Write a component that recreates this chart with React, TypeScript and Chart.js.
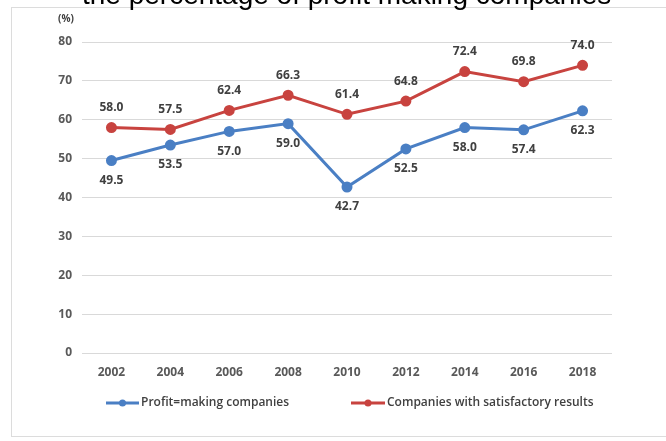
import React, { useEffect, useRef } from "react";
import { Chart, registerables } from "chart.js";

Chart.register(...registerables);

const titleText = "the percentage of profit making companies";
const unitLabel = "(%)";
const years = ["2002", "2004", "2006", "2008", "2010", "2012", "2014", "2016", "2018"];
const profitMaking = [49.5, 53.5, 57.0, 59.0, 42.7, 52.5, 58.0, 57.4, 62.3];
const satisfactory = [58.0, 57.5, 62.4, 66.3, 61.4, 64.8, 72.4, 69.8, 74.0];
const seriesNames = ["Profit=making companies", "Companies with satisfactory results"];
const yMin = 0;
const yMax = 80;
const yStep = 10;

const BLUE = "#4a7fc4";
const RED = "#c8433f";
const FONT = "'Open Sans', 'DejaVu Sans', sans-serif";

const valueLabels = {
  id: "valueLabels",
  afterDatasetsDraw(chart: any) {
    const ctx = chart.ctx;
    ctx.save();
    ctx.font = `bold 12px ${FONT}`;
    ctx.fillStyle = "#404040";
    ctx.textAlign = "center";
    ctx.textBaseline = "middle";
    chart.data.datasets.forEach((ds: any, i: number) => {
      const meta = chart.getDatasetMeta(i);
      const above = i === 1;
      meta.data.forEach((pt: any, j: number) => {
        const v = ds.data[j] as number;
        ctx.fillText(v.toFixed(1), pt.x, pt.y + (above ? -20 : 20));
      });
    });
    ctx.font = `bold 10px ${FONT}`;
    ctx.fillStyle = "#404040";
    ctx.fillText(unitLabel, 66, 19);
    ctx.restore();
  },
};

const customLegend = {
  id: "customLegend",
  afterDraw(chart: any) {
    const ctx = chart.ctx;
    const y = 403;
    const items = [
      { x0: 106, x1: 139 },
      { x0: 351, x1: 385 },
    ];
    ctx.save();
    ctx.font = `600 12px ${FONT}`;
    ctx.textBaseline = "middle";
    ctx.textAlign = "left";
    chart.data.datasets.forEach((ds: any, i: number) => {
      const it = items[i];
      ctx.strokeStyle = ds.borderColor;
      ctx.lineWidth = 3;
      ctx.beginPath();
      ctx.moveTo(it.x0, y);
      ctx.lineTo(it.x1, y);
      ctx.stroke();
      ctx.fillStyle = ds.borderColor;
      ctx.beginPath();
      ctx.arc((it.x0 + it.x1) / 2, y, 3.5, 0, Math.PI * 2);
      ctx.fill();
      ctx.fillStyle = "#404040";
      ctx.fillText(ds.label, it.x1 + 2, y);
    });
    ctx.restore();
  },
};

export default function App() {
  const ref = useRef<HTMLCanvasElement | null>(null);

  useEffect(() => {
    if (!ref.current) return;
    const chart = new Chart(ref.current, {
      type: "line",
      data: {
        labels: years,
        datasets: [
          {
            label: seriesNames[0],
            data: profitMaking,
            borderColor: BLUE,
            backgroundColor: BLUE,
            borderWidth: 3,
            pointRadius: 4,
            pointBackgroundColor: BLUE,
            pointBorderColor: BLUE,
            tension: 0,
          },
          {
            label: seriesNames[1],
            data: satisfactory,
            borderColor: RED,
            backgroundColor: RED,
            borderWidth: 3,
            pointRadius: 4,
            pointBackgroundColor: RED,
            pointBorderColor: RED,
            tension: 0,
          },
        ],
      },
      options: {
        responsive: false,
        animation: false,
        devicePixelRatio: 1,
        layout: { padding: { top: 42, right: 54, left: 0, bottom: 0 } },
        plugins: {
          legend: { display: false },
          tooltip: { enabled: false },
          title: { display: false },
        },
        scales: {
          x: {
            offset: true,
            grid: { display: false, drawTicks: false },
            border: { display: false },
            ticks: {
              color: "#595959",
              font: { family: FONT, size: 12, weight: "bold" },
              padding: 12,
              maxRotation: 0,
            },
            afterFit: (s: any) => {
              s.height = 88;
            },
          },
          y: {
            min: yMin,
            max: yMax,
            grid: { color: "#d9d9d9", lineWidth: 1, drawTicks: false },
            border: { display: false },
            ticks: {
              stepSize: yStep,
              color: "#595959",
              font: { family: FONT, size: 12, weight: "bold" },
              padding: 10,
            },
            afterFit: (s: any) => {
              s.width = 82;
            },
          },
        },
      },
      plugins: [valueLabels, customLegend],
    });
    return () => chart.destroy();
  }, []);

  return (
    <div
      style={{
        position: "absolute",
        left: 0,
        top: 0,
        width: 666,
        height: 441,
        overflow: "hidden",
        background: "#ffffff",
      }}
    >
      <div
        style={{
          position: "absolute",
          left: 11,
          top: 7,
          width: 700,
          height: 430,
          border: "1px solid #dcdcdc",
          boxSizing: "border-box",
        }}
      />
      <canvas
        ref={ref}
        width={666}
        height={441}
        style={{ position: "absolute", left: 0, top: 0, display: "block" }}
      />
      <div
        style={{
          position: "absolute",
          left: 82,
          top: -19,
          fontFamily: "'Liberation Sans', Arial, sans-serif",
          fontSize: 28,
          lineHeight: "28px",
          color: "#000",
          whiteSpace: "nowrap",
        }}
      >
        {titleText}
      </div>
    </div>
  );
}
